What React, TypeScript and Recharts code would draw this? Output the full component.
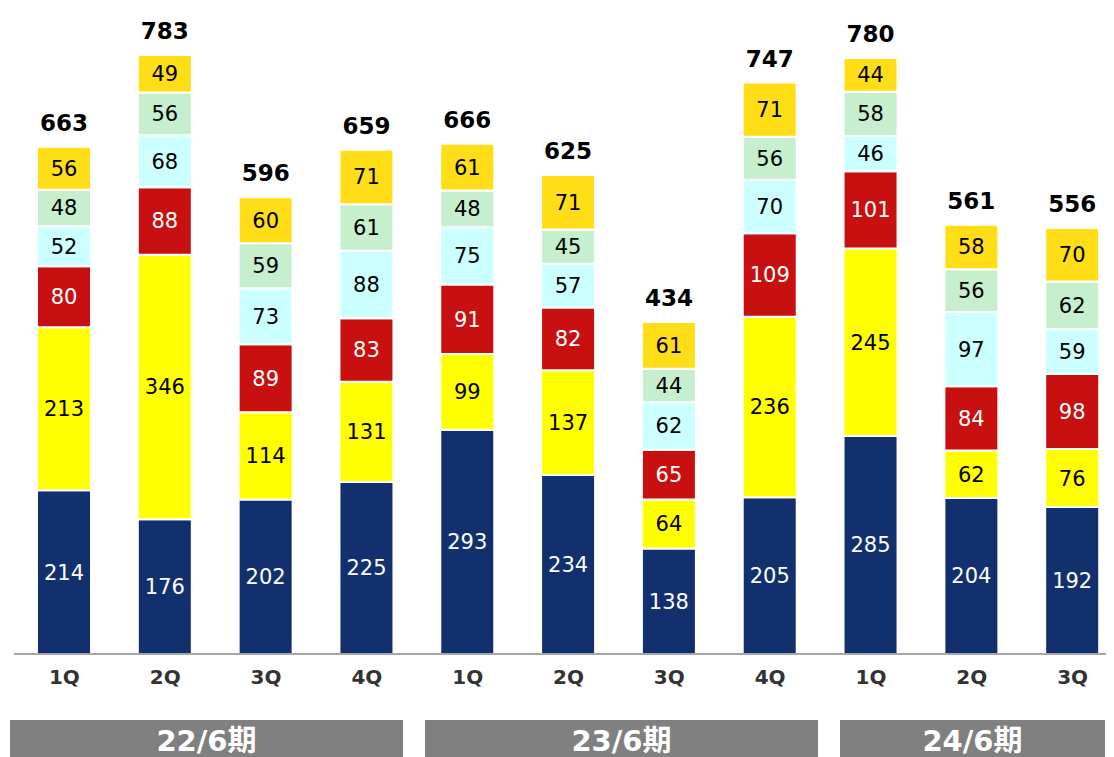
import React from "react";
import { BarChart, Bar, XAxis, YAxis, LabelList } from "recharts";

const categories = ["1Q", "2Q", "3Q", "4Q", "1Q", "2Q", "3Q", "4Q", "1Q", "2Q", "3Q"];
const navyValues = [214, 176, 202, 225, 293, 234, 138, 205, 285, 204, 192];
const yellowValues = [213, 346, 114, 131, 99, 137, 64, 236, 245, 62, 76];
const redValues = [80, 88, 89, 83, 91, 82, 65, 109, 101, 84, 98];
const cyanValues = [52, 68, 73, 88, 75, 57, 62, 70, 46, 97, 59];
const greenValues = [48, 56, 59, 61, 48, 45, 44, 56, 58, 56, 62];
const goldValues = [56, 49, 60, 71, 61, 71, 61, 71, 44, 58, 70];
const totalLabels = ["663", "783", "596", "659", "666", "625", "434", "747", "780", "561", "556"];
const periodLabels = ["22/6期", "23/6期", "24/6期"];

const FONT = "'DejaVu Sans', 'Noto Sans CJK JP', sans-serif";

const data = categories.map((c, i) => ({
  id: i,
  cat: c,
  navy: navyValues[i],
  yellow: yellowValues[i],
  red: redValues[i],
  cyan: cyanValues[i],
  green: greenValues[i],
  gold: goldValues[i],
}));

const series = [
  { key: "navy", color: "#13306e", text: "#ffffff" },
  { key: "yellow", color: "#ffff00", text: "#000000" },
  { key: "red", color: "#c81010", text: "#ffffff" },
  { key: "cyan", color: "#ccffff", text: "#000000" },
  { key: "green", color: "#c6efce", text: "#000000" },
  { key: "gold", color: "#ffde17", text: "#000000" },
];

// annotation box layout (relative to the wrapper)
const periodBoxes = [
  { left: 2, right: 395 },
  { left: 417, right: 810 },
  { left: 832, right: 1097 },
];

const TotalLabel = (props: any) => {
  const { x, y, width, index } = props;
  return (
    <text
      x={Number(x) + Number(width) / 2}
      y={Number(y) - 24}
      textAnchor="middle"
      dominantBaseline="central"
      fontFamily={FONT}
      fontWeight="bold"
      fontSize={23}
      fill="#000"
    >
      {totalLabels[index]}
    </text>
  );
};

const CatTick = (props: any) => {
  const { x, y, payload } = props;
  return (
    <text
      x={x}
      y={y + 15}
      textAnchor="middle"
      dominantBaseline="central"
      fontFamily={FONT}
      fontWeight="bold"
      fontSize={20}
      fill="#333333"
    >
      {categories[payload.index] ?? payload.value}
    </text>
  );
};

export default function App() {
  return (
    <div style={{ position: "relative", width: 1106, height: 749, overflow: "hidden", fontFamily: FONT }}>
      <BarChart
        width={1115}
        height={690}
        data={data}
        margin={{ top: 34, right: 0, bottom: 0, left: 6 }}
        barSize={54}
      >
        <XAxis
          dataKey="id"
          type="category"
          axisLine={{ stroke: "#a6a6a6", strokeWidth: 2 }}
          tickLine={false}
          tick={<CatTick />}
          height={44}
          interval={0}
        />
        <YAxis hide domain={[0, 800]} />
        {series.map((s, si) => (
          <Bar
            key={s.key}
            dataKey={s.key}
            stackId="a"
            fill={s.color}
            stroke="#ffffff"
            strokeWidth={2}
            isAnimationActive={false}
          >
            <LabelList
              dataKey={s.key}
              position="center"
              fill={s.text}
              fontSize={21}
              fontFamily={FONT}
            />
            {si === series.length - 1 ? <LabelList dataKey={s.key} content={<TotalLabel />} /> : null}
          </Bar>
        ))}
      </BarChart>
      {periodLabels.map((p, i) => (
        <div
          key={p}
          style={{
            position: "absolute",
            left: periodBoxes[i].left,
            width: periodBoxes[i].right - periodBoxes[i].left,
            top: 712,
            height: 42,
            background: "#808080",
            color: "#ffffff",
            fontWeight: "bold",
            fontSize: 29,
            lineHeight: "42px",
            textAlign: "center",
            fontFamily: FONT,
          }}
        >
          {p}
        </div>
      ))}
    </div>
  );
}
